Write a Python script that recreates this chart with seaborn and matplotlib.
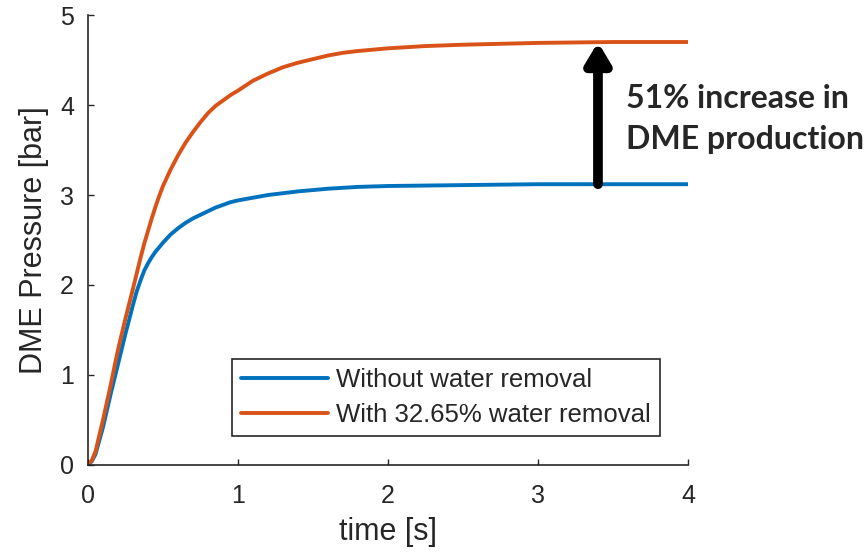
import pandas as pd
import matplotlib.pyplot as plt
import seaborn as sns
import numpy as np

# valori
time = [0, 0.025, 0.05, 0.1, 0.15, 0.2, 0.25, 0.3, 0.325, 0.35, 0.375, 0.4,
        0.425, 0.45, 0.475, 0.5, 0.55, 0.6, 0.65, 0.7, 0.75, 0.8, 0.85, 0.9,
        0.95, 1.0, 1.1, 1.2, 1.3, 1.4, 1.5, 1.6, 1.7, 1.8, 2.0, 2.25, 2.5,
        2.75, 3.0, 3.5, 4.0]
p_without = [0, 0.04, 0.12, 0.42, 0.78, 1.12, 1.46, 1.78, 1.93, 2.05, 2.16,
             2.24, 2.31, 2.37, 2.42, 2.47, 2.56, 2.63, 2.69, 2.74, 2.78, 2.82,
             2.86, 2.89, 2.92, 2.94, 2.97, 3.00, 3.02, 3.04, 3.055, 3.07, 3.08,
             3.09, 3.10, 3.105, 3.11, 3.115, 3.12, 3.12, 3.12]
p_with = [0, 0.05, 0.15, 0.5, 0.88, 1.28, 1.63, 1.96, 2.13, 2.3, 2.46, 2.6,
          2.74, 2.87, 2.99, 3.1, 3.28, 3.44, 3.58, 3.7, 3.81, 3.91, 3.99, 4.05,
          4.11, 4.16, 4.27, 4.35, 4.42, 4.47, 4.51, 4.55, 4.58, 4.6, 4.63,
          4.655, 4.67, 4.68, 4.69, 4.70, 4.70]
labels = ['Without water removal', 'With 32.65% water removal']
colors = ['#0072BD', '#D95319']
arrow_t = 3.4

sns.set_theme(style="white")
plt.rcParams['font.family'] = ['Liberation Sans', 'DejaVu Sans']

fig = plt.figure(figsize=(8.67, 5.56), dpi=100)
ax = fig.add_axes([0.1015, 0.1637, 0.692, 0.8093])

df = pd.DataFrame({'time': time * 2,
                   'p': p_without + p_with,
                   'case': [labels[0]] * len(time) + [labels[1]] * len(time)})
sns.lineplot(data=df, x='time', y='p', hue='case', palette=colors,
             linewidth=2.8, ax=ax)

ax.set_xlim(0, 4)
ax.set_ylim(0, 5)
ax.set_xticks([0, 1, 2, 3, 4])
ax.set_yticks([0, 1, 2, 3, 4, 5])
ax.set_xlabel('time [s]', fontsize=22, color='#262626', labelpad=6)
ax.set_ylabel('DME Pressure [bar]', fontsize=22, color='#262626', labelpad=8)
ax.tick_params(direction='in', length=4, width=1, colors='#262626',
               labelsize=18, left=True, bottom=True)
ax.tick_params(axis='x', pad=14)
ax.tick_params(axis='y', pad=10)
sns.despine(ax=ax)
for s in ['left', 'bottom']:
    ax.spines[s].set_color('#262626')
    ax.spines[s].set_linewidth(1.2)

# freccia tra i due plateau
y0 = np.interp(arrow_t, time, p_without)
y1 = np.interp(arrow_t, time, p_with)
ax.annotate('', xy=(arrow_t, y1), xytext=(arrow_t, y0),
            arrowprops=dict(arrowstyle='-|>,head_length=1.0,head_width=0.6',
                            lw=7, color='black', shrinkA=0, shrinkB=0))
ax.text(3.59, 3.84, '51% increase in\nDME production', fontsize=23,
        fontweight='bold', family=['Lato', 'DejaVu Sans'], va='center',
        ha='left', linespacing=1.5, clip_on=False)

leg = ax.legend(loc='lower right', bbox_to_anchor=(0.953, 0.064),
                borderaxespad=0, fontsize=18.5, handlelength=3.4,
                handletextpad=0.3, labelspacing=0.45, fancybox=False,
                framealpha=1, edgecolor='#262626', borderpad=0.35)
leg.get_frame().set_linewidth(1.2)

plt.savefig('out.png', dpi=100)
